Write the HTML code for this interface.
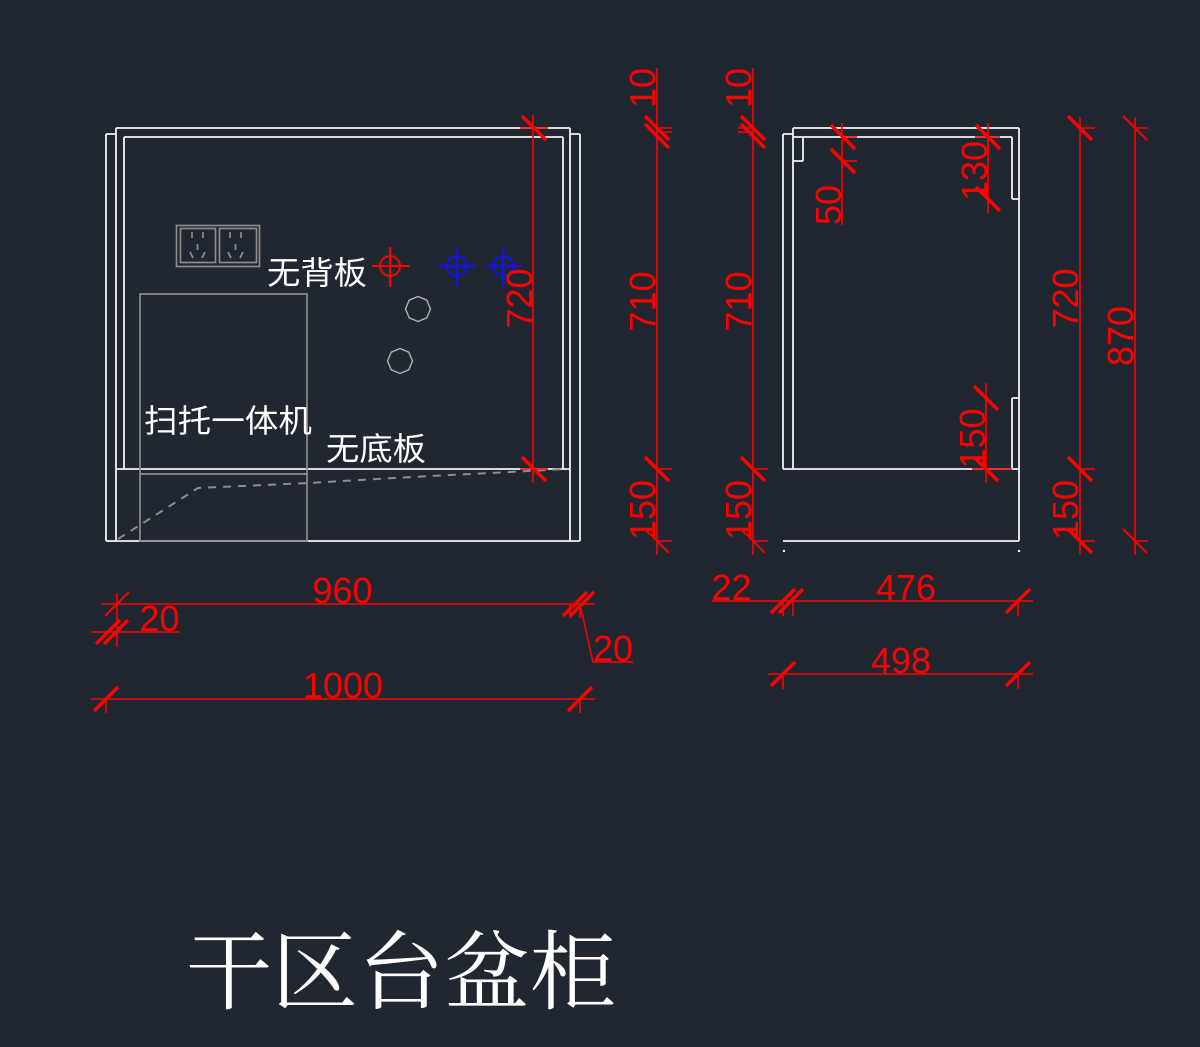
<!DOCTYPE html>
<html><head><meta charset="utf-8"><style>
html,body{margin:0;padding:0;background:#212731;}
svg{display:block;}
.w{stroke:#f2f2f2;stroke-width:1.8;fill:none;}
.g{stroke:#8c8c8c;stroke-width:1.7;fill:none;}
.r{stroke:#ff0000;stroke-width:1.6;fill:none;}
.t{stroke:#ff0000;stroke-width:3.5;fill:none;}
.tt{stroke:#ff0000;stroke-width:2;fill:none;}
.n{font-family:"Liberation Sans",sans-serif;font-size:36px;fill:#ff0000;}
.c{font-family:"Liberation Sans","Noto Sans CJK SC",sans-serif;font-size:32px;fill:#ffffff;}
</style></head><body>
<svg width="1200" height="1047" viewBox="0 0 1200 1047" xmlns="http://www.w3.org/2000/svg">
<rect width="1200" height="1047" fill="#212731"/>

<!-- LEFT CABINET -->
<g class="w">
<path d="M106 134V541M106 134H116M116 128V541M124 137V469M116 128H570M124 137H563M563 137V469M570 128V541M580 134V541M570 134H580M116 469H570M106 541H580"/>
</g>
<!-- sockets -->
<g class="g" stroke-width="1.3">
<rect x="176.5" y="225.5" width="83" height="41"/>
<rect x="180.5" y="228.5" width="35" height="34"/>
<rect x="219.5" y="228.5" width="37" height="34"/>
<path d="M192 232V238M203 232V238M197.5 244V250M190 252L193 258M205 252L202 258"/>
<path d="M230 232V238M241 232V238M235.5 244V250M228 252L231 258M243 252L240 258"/>
</g>
<!-- machine -->
<g class="g">
<rect x="140" y="294" width="167" height="247"/>
<path d="M140 474H307"/>
<path d="M118 539L198 488L308 483L412 477L568 469" stroke-dasharray="8 7" stroke-width="2"/>
</g>
<!-- octagons -->
<g stroke="#b0b0b0" stroke-width="1.4" fill="none">
<polygon points="430.5,309 426.8,317.8 418,321.5 409.2,317.8 405.5,309 409.2,300.2 418,296.5 426.8,300.2"/>
<polygon points="412.5,361 408.8,369.8 400,373.5 391.2,369.8 387.5,361 391.2,352.2 400,348.5 408.8,352.2"/>
</g>
<!-- targets -->
<g stroke="#ff0000" stroke-width="2" fill="none">
<circle cx="390" cy="266" r="10"/><path d="M372 266H410M390 247V287"/>
</g>
<g stroke="#1414e6" stroke-width="2.2" fill="none">
<circle cx="457" cy="266" r="10"/><path d="M438 266H476M457 247V287"/>
<circle cx="503" cy="266" r="10"/><path d="M485 266H522M503 247V287"/>
</g>
<!-- 720 dim in left cabinet -->
<path class="r" d="M533 115V483M520 128H548M520 469H548"/>
<path class="t" d="M522 116L546 140M522 457L546 481"/>
<text class="n" transform="translate(532,298.5) rotate(-90)" text-anchor="middle">720</text>

<!-- CJK labels -->
<text class="c" x="267" y="284" textLength="100" lengthAdjust="spacingAndGlyphs">无背板</text>
<text class="c" x="144" y="432" textLength="168" lengthAdjust="spacingAndGlyphs">扫托一体机</text>
<text class="c" x="326" y="460" textLength="100" lengthAdjust="spacingAndGlyphs">无底板</text>

<!-- LEFT VERTICAL DIMS (x=657, 753) -->
<g>
<path class="r" d="M657 68V555M657 128H672M657 132H672M657 469H672M657 541H672"/>
<path class="t" d="M645 116L669 140M645 124L669 148M645 457L669 481"/>
<path class="tt" d="M645 529L669 553"/>
<text class="n" transform="translate(655,88) rotate(-90)" text-anchor="middle">10</text>
<text class="n" transform="translate(655,301.5) rotate(-90)" text-anchor="middle">710</text>
<text class="n" transform="translate(655,510) rotate(-90)" text-anchor="middle">150</text>
</g>
<g>
<path class="r" d="M753 68V555M738 128H753M738 132H753M753 469H768M753 541H768"/>
<path class="t" d="M741 116L765 140M741 124L765 148M741 457L765 481"/>
<path class="tt" d="M741 529L765 553"/>
<text class="n" transform="translate(751,88) rotate(-90)" text-anchor="middle">10</text>
<text class="n" transform="translate(751,301.5) rotate(-90)" text-anchor="middle">710</text>
<text class="n" transform="translate(751,510) rotate(-90)" text-anchor="middle">150</text>
</g>

<!-- RIGHT CABINET (side) -->
<g class="w">
<path d="M793 128H1019M793 137H1012M793 128V469M783 134V469M783 134H793M803 137V161M793 161H803M1019 128V541M1012 137V199M1012 199H1019M1012 398V469M1012 398H1019M783 469H1019M783 541H1019"/>
</g>
<circle cx="784" cy="551" r="1.2" fill="#fff"/>
<circle cx="1019" cy="551" r="1.2" fill="#fff"/>

<!-- interior dims -->
<path class="r" d="M842 123V225M842 137H857M842 161H857"/>
<path class="t" d="M831 125L855 149M831 149L855 173"/>
<text class="n" transform="translate(841,205) rotate(-90)" text-anchor="middle">50</text>

<path class="r" d="M988 123V213M975 137H1000"/>
<path class="t" d="M976 125L1000 149M976 187L1000 211"/>
<text class="n" transform="translate(987,171) rotate(-90)" text-anchor="middle">130</text>

<path class="r" d="M986 383V483M972 469H1012"/>
<path class="t" d="M974 386L998 410M974 457L998 481"/>
<text class="n" transform="translate(985,438.5) rotate(-90)" text-anchor="middle">150</text>

<!-- RIGHT VERTICAL DIMS (1080, 1135) -->
<path class="r" d="M1080 117V555M1080 128H1095M1080 469H1095M1080 541H1095"/>
<path class="t" d="M1068 116L1092 140M1068 457L1092 481M1068 529L1092 553"/>
<text class="n" transform="translate(1078,298.5) rotate(-90)" text-anchor="middle">720</text>
<text class="n" transform="translate(1078,510) rotate(-90)" text-anchor="middle">150</text>

<path class="r" d="M1135 117V555M1135 128H1148M1135 541H1148"/>
<path class="tt" d="M1123 116L1147 140M1123 529L1147 553"/>
<text class="n" transform="translate(1133,336) rotate(-90)" text-anchor="middle">870</text>

<!-- BOTTOM HORIZONTAL DIMS LEFT -->
<path class="r" d="M101 604H595M117 593V647M91 632H180M580 604L593 662H633M91 699H595M106 699V713M580 699V713M580 604V618M570 604V618"/>
<path class="tt" d="M105 616L129 592"/>
<path class="t" d="M96 644L120 620M104 644L128 620M563 616L587 592M570 616L594 592M94 711L118 687M568 711L592 687"/>
<text class="n" x="342.5" y="603" text-anchor="middle">960</text>
<text class="n" x="159.5" y="631" text-anchor="middle">20</text>
<text class="n" x="613" y="661" text-anchor="middle">20</text>
<text class="n" x="343" y="698" text-anchor="middle">1000</text>

<!-- BOTTOM HORIZONTAL DIMS RIGHT -->
<path class="r" d="M712 601H1033M783 601V616M793 601V616M1018 601V616M768 674H1033M783 674V689M1018 674V689"/>
<path class="t" d="M771 613L795 589M779 613L803 589M1006 613L1030 589M771 686L795 662M1006 686L1030 662"/>
<text class="n" x="731.5" y="600" text-anchor="middle">22</text>
<text class="n" x="906" y="600" text-anchor="middle">476</text>
<text class="n" x="901" y="673" text-anchor="middle">498</text>

<!-- TITLE -->
<text x="186" y="1002" textLength="430" lengthAdjust="spacingAndGlyphs" font-family="'Liberation Serif','Noto Serif CJK SC',serif" font-size="86" fill="#ffffff">干区台盆柜</text>
</svg>
</body></html>
